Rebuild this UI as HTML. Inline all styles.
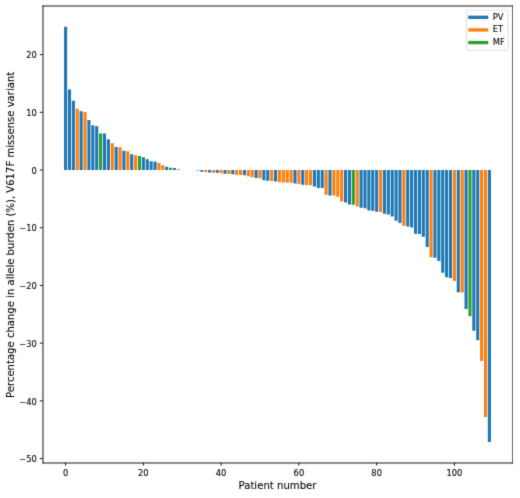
<!DOCTYPE html>
<html><head><meta charset="utf-8"><title>Chart</title>
<style>html,body{margin:0;padding:0;background:#fff;}body{width:520px;height:498px;overflow:hidden;}svg{display:block;}svg text{stroke:#000;stroke-width:0.1px;}</style>
</head><body>
<svg width="520" height="498" viewBox="0 0 624 597.6" version="1.1"><filter id="soft" x="0" y="0" width="624" height="597.6" filterUnits="userSpaceOnUse" color-interpolation-filters="sRGB"><feConvolveMatrix order="3" kernelMatrix="0.02 0.08 0.02 0.08 0.6 0.08 0.02 0.08 0.02" edgeMode="duplicate"/></filter><g filter="url(#soft)"><defs><style type="text/css">*{stroke-linejoin: round; stroke-linecap: butt}</style></defs><g id="figure_1"><g id="patch_1"><path d="M 0 597.6 L 624 597.6 L 624 0 L 0 0 z " style="fill: #ffffff"/></g><g id="axes_1"><g id="patch_2"><path d="M 51.24 555.24 L 614.76 555.24 L 614.76 7.2 L 51.24 7.2 z " style="fill: #ffffff"/></g><g id="patch_3"><path d="M 76.854545 204.046384 L 80.587084 204.046384 L 80.587084 32.110909 L 76.854545 32.110909 z " clip-path="url(#p368d1b4e70)" style="fill: #1f77b4"/></g><g id="patch_4"><path d="M 81.520219 204.046384 L 85.252757 204.046384 L 85.252757 107.31104 L 81.520219 107.31104 z " clip-path="url(#p368d1b4e70)" style="fill: #1f77b4"/></g><g id="patch_5"><path d="M 86.185892 204.046384 L 89.91843 204.046384 L 89.91843 120.883072 L 86.185892 120.883072 z " clip-path="url(#p368d1b4e70)" style="fill: #1f77b4"/></g><g id="patch_6"><path d="M 90.851565 204.046384 L 94.584103 204.046384 L 94.584103 130.508134 L 90.851565 130.508134 z " clip-path="url(#p368d1b4e70)" style="fill: #ff7f0e"/></g><g id="patch_7"><path d="M 95.517238 204.046384 L 99.249776 204.046384 L 99.249776 133.554917 L 95.517238 133.554917 z " clip-path="url(#p368d1b4e70)" style="fill: #1f77b4"/></g><g id="patch_8"><path d="M 100.182911 204.046384 L 103.91545 204.046384 L 103.91545 134.455103 L 100.182911 134.455103 z " clip-path="url(#p368d1b4e70)" style="fill: #ff7f0e"/></g><g id="patch_9"><path d="M 104.848584 204.046384 L 108.581123 204.046384 L 108.581123 144.080166 L 104.848584 144.080166 z " clip-path="url(#p368d1b4e70)" style="fill: #1f77b4"/></g><g id="patch_10"><path d="M 109.514257 204.046384 L 113.246796 204.046384 L 113.246796 150.312221 L 109.514257 150.312221 z " clip-path="url(#p368d1b4e70)" style="fill: #1f77b4"/></g><g id="patch_11"><path d="M 114.17993 204.046384 L 117.912469 204.046384 L 117.912469 151.420142 L 114.17993 151.420142 z " clip-path="url(#p368d1b4e70)" style="fill: #1f77b4"/></g><g id="patch_12"><path d="M 118.845604 204.046384 L 122.578142 204.046384 L 122.578142 160.075774 L 118.845604 160.075774 z " clip-path="url(#p368d1b4e70)" style="fill: #2ca02c"/></g><g id="patch_13"><path d="M 123.511277 204.046384 L 127.243815 204.046384 L 127.243815 160.214264 L 123.511277 160.214264 z " clip-path="url(#p368d1b4e70)" style="fill: #1f77b4"/></g><g id="patch_14"><path d="M 128.17695 204.046384 L 131.909488 204.046384 L 131.909488 167.138769 L 128.17695 167.138769 z " clip-path="url(#p368d1b4e70)" style="fill: #1f77b4"/></g><g id="patch_15"><path d="M 132.842623 204.046384 L 136.575161 204.046384 L 136.575161 171.847433 L 132.842623 171.847433 z " clip-path="url(#p368d1b4e70)" style="fill: #ff7f0e"/></g><g id="patch_16"><path d="M 137.508296 204.046384 L 141.240835 204.046384 L 141.240835 176.348362 L 137.508296 176.348362 z " clip-path="url(#p368d1b4e70)" style="fill: #1f77b4"/></g><g id="patch_17"><path d="M 142.173969 204.046384 L 145.906508 204.046384 L 145.906508 176.625342 L 142.173969 176.625342 z " clip-path="url(#p368d1b4e70)" style="fill: #ff7f0e"/></g><g id="patch_18"><path d="M 146.839642 204.046384 L 150.572181 204.046384 L 150.572181 180.918536 L 146.839642 180.918536 z " clip-path="url(#p368d1b4e70)" style="fill: #1f77b4"/></g><g id="patch_19"><path d="M 151.505315 204.046384 L 155.237854 204.046384 L 155.237854 181.541741 L 151.505315 181.541741 z " clip-path="url(#p368d1b4e70)" style="fill: #ff7f0e"/></g><g id="patch_20"><path d="M 156.170989 204.046384 L 159.903527 204.046384 L 159.903527 185.211729 L 156.170989 185.211729 z " clip-path="url(#p368d1b4e70)" style="fill: #1f77b4"/></g><g id="patch_21"><path d="M 160.836662 204.046384 L 164.5692 204.046384 L 164.5692 186.31965 L 160.836662 186.31965 z " clip-path="url(#p368d1b4e70)" style="fill: #ff7f0e"/></g><g id="patch_22"><path d="M 165.502335 204.046384 L 169.234873 204.046384 L 169.234873 187.219836 L 165.502335 187.219836 z " clip-path="url(#p368d1b4e70)" style="fill: #2ca02c"/></g><g id="patch_23"><path d="M 170.168008 204.046384 L 173.900546 204.046384 L 173.900546 188.743227 L 170.168008 188.743227 z " clip-path="url(#p368d1b4e70)" style="fill: #1f77b4"/></g><g id="patch_24"><path d="M 174.833681 204.046384 L 178.56622 204.046384 L 178.56622 191.028314 L 174.833681 191.028314 z " clip-path="url(#p368d1b4e70)" style="fill: #1f77b4"/></g><g id="patch_25"><path d="M 179.499354 204.046384 L 183.231893 204.046384 L 183.231893 193.382646 L 179.499354 193.382646 z " clip-path="url(#p368d1b4e70)" style="fill: #1f77b4"/></g><g id="patch_26"><path d="M 184.165027 204.046384 L 187.897566 204.046384 L 187.897566 193.798116 L 184.165027 193.798116 z " clip-path="url(#p368d1b4e70)" style="fill: #1f77b4"/></g><g id="patch_27"><path d="M 188.8307 204.046384 L 192.563239 204.046384 L 192.563239 195.667733 L 188.8307 195.667733 z " clip-path="url(#p368d1b4e70)" style="fill: #ff7f0e"/></g><g id="patch_28"><path d="M 193.496374 204.046384 L 197.228912 204.046384 L 197.228912 198.2298 L 193.496374 198.2298 z " clip-path="url(#p368d1b4e70)" style="fill: #ff7f0e"/></g><g id="patch_29"><path d="M 198.162047 204.046384 L 201.894585 204.046384 L 201.894585 200.237906 L 198.162047 200.237906 z " clip-path="url(#p368d1b4e70)" style="fill: #1f77b4"/></g><g id="patch_30"><path d="M 202.82772 204.046384 L 206.560258 204.046384 L 206.560258 201.415072 L 202.82772 201.415072 z " clip-path="url(#p368d1b4e70)" style="fill: #2ca02c"/></g><g id="patch_31"><path d="M 207.493393 204.046384 L 211.225931 204.046384 L 211.225931 201.692053 L 207.493393 201.692053 z " clip-path="url(#p368d1b4e70)" style="fill: #1f77b4"/></g><g id="patch_32"><path d="M 212.159066 204.046384 L 215.891605 204.046384 L 215.891605 202.799973 L 212.159066 202.799973 z " clip-path="url(#p368d1b4e70)" style="fill: #ff7f0e"/></g><g id="patch_33"><path d="M 216.824739 204.046384 L 220.557278 204.046384 L 220.557278 204.046384 L 216.824739 204.046384 z " clip-path="url(#p368d1b4e70)" style="fill: #1f77b4"/></g><g id="patch_34"><path d="M 221.490412 204.046384 L 225.222951 204.046384 L 225.222951 204.046384 L 221.490412 204.046384 z " clip-path="url(#p368d1b4e70)" style="fill: #1f77b4"/></g><g id="patch_35"><path d="M 226.156085 204.046384 L 229.888624 204.046384 L 229.888624 204.046384 L 226.156085 204.046384 z " clip-path="url(#p368d1b4e70)" style="fill: #1f77b4"/></g><g id="patch_36"><path d="M 230.821759 204.046384 L 234.554297 204.046384 L 234.554297 204.046384 L 230.821759 204.046384 z " clip-path="url(#p368d1b4e70)" style="fill: #1f77b4"/></g><g id="patch_37"><path d="M 235.487432 204.046384 L 239.21997 204.046384 L 239.21997 204.5311 L 235.487432 204.5311 z " clip-path="url(#p368d1b4e70)" style="fill: #1f77b4"/></g><g id="patch_38"><path d="M 240.153105 204.046384 L 243.885643 204.046384 L 243.885643 206.123736 L 240.153105 206.123736 z " clip-path="url(#p368d1b4e70)" style="fill: #1f77b4"/></g><g id="patch_39"><path d="M 244.818778 204.046384 L 248.551316 204.046384 L 248.551316 206.331471 L 244.818778 206.331471 z " clip-path="url(#p368d1b4e70)" style="fill: #ff7f0e"/></g><g id="patch_40"><path d="M 249.484451 204.046384 L 253.21699 204.046384 L 253.21699 206.954677 L 249.484451 206.954677 z " clip-path="url(#p368d1b4e70)" style="fill: #1f77b4"/></g><g id="patch_41"><path d="M 254.150124 204.046384 L 257.882663 204.046384 L 257.882663 207.162412 L 254.150124 207.162412 z " clip-path="url(#p368d1b4e70)" style="fill: #ff7f0e"/></g><g id="patch_42"><path d="M 258.815797 204.046384 L 262.548336 204.046384 L 262.548336 207.439392 L 258.815797 207.439392 z " clip-path="url(#p368d1b4e70)" style="fill: #1f77b4"/></g><g id="patch_43"><path d="M 263.48147 204.046384 L 267.214009 204.046384 L 267.214009 207.785618 L 263.48147 207.785618 z " clip-path="url(#p368d1b4e70)" style="fill: #ff7f0e"/></g><g id="patch_44"><path d="M 268.147144 204.046384 L 271.879682 204.046384 L 271.879682 208.616558 L 268.147144 208.616558 z " clip-path="url(#p368d1b4e70)" style="fill: #1f77b4"/></g><g id="patch_45"><path d="M 272.812817 204.046384 L 276.545355 204.046384 L 276.545355 208.755048 L 272.812817 208.755048 z " clip-path="url(#p368d1b4e70)" style="fill: #ff7f0e"/></g><g id="patch_46"><path d="M 277.47849 204.046384 L 281.211028 204.046384 L 281.211028 209.032029 L 277.47849 209.032029 z " clip-path="url(#p368d1b4e70)" style="fill: #1f77b4"/></g><g id="patch_47"><path d="M 282.144163 204.046384 L 285.876701 204.046384 L 285.876701 209.862969 L 282.144163 209.862969 z " clip-path="url(#p368d1b4e70)" style="fill: #ff7f0e"/></g><g id="patch_48"><path d="M 286.809836 204.046384 L 290.542375 204.046384 L 290.542375 209.862969 L 286.809836 209.862969 z " clip-path="url(#p368d1b4e70)" style="fill: #ff7f0e"/></g><g id="patch_49"><path d="M 291.475509 204.046384 L 295.208048 204.046384 L 295.208048 210.41693 L 291.475509 210.41693 z " clip-path="url(#p368d1b4e70)" style="fill: #1f77b4"/></g><g id="patch_50"><path d="M 296.141182 204.046384 L 299.873721 204.046384 L 299.873721 211.38636 L 296.141182 211.38636 z " clip-path="url(#p368d1b4e70)" style="fill: #ff7f0e"/></g><g id="patch_51"><path d="M 300.806855 204.046384 L 304.539394 204.046384 L 304.539394 212.840507 L 300.806855 212.840507 z " clip-path="url(#p368d1b4e70)" style="fill: #ff7f0e"/></g><g id="patch_52"><path d="M 305.472529 204.046384 L 309.205067 204.046384 L 309.205067 213.671447 L 305.472529 213.671447 z " clip-path="url(#p368d1b4e70)" style="fill: #1f77b4"/></g><g id="patch_53"><path d="M 310.138202 204.046384 L 313.87074 204.046384 L 313.87074 214.017673 L 310.138202 214.017673 z " clip-path="url(#p368d1b4e70)" style="fill: #ff7f0e"/></g><g id="patch_54"><path d="M 314.803875 204.046384 L 318.536413 204.046384 L 318.536413 216.302759 L 314.803875 216.302759 z " clip-path="url(#p368d1b4e70)" style="fill: #1f77b4"/></g><g id="patch_55"><path d="M 319.469548 204.046384 L 323.202086 204.046384 L 323.202086 216.787475 L 319.469548 216.787475 z " clip-path="url(#p368d1b4e70)" style="fill: #1f77b4"/></g><g id="patch_56"><path d="M 324.135221 204.046384 L 327.86776 204.046384 L 327.86776 217.1337 L 324.135221 217.1337 z " clip-path="url(#p368d1b4e70)" style="fill: #ff7f0e"/></g><g id="patch_57"><path d="M 328.800894 204.046384 L 332.533433 204.046384 L 332.533433 217.756906 L 328.800894 217.756906 z " clip-path="url(#p368d1b4e70)" style="fill: #1f77b4"/></g><g id="patch_58"><path d="M 333.466567 204.046384 L 337.199106 204.046384 L 337.199106 218.726336 L 333.466567 218.726336 z " clip-path="url(#p368d1b4e70)" style="fill: #ff7f0e"/></g><g id="patch_59"><path d="M 338.13224 204.046384 L 341.864779 204.046384 L 341.864779 219.003317 L 338.13224 219.003317 z " clip-path="url(#p368d1b4e70)" style="fill: #ff7f0e"/></g><g id="patch_60"><path d="M 342.797914 204.046384 L 346.530452 204.046384 L 346.530452 219.280297 L 342.797914 219.280297 z " clip-path="url(#p368d1b4e70)" style="fill: #ff7f0e"/></g><g id="patch_61"><path d="M 347.463587 204.046384 L 351.196125 204.046384 L 351.196125 219.418787 L 347.463587 219.418787 z " clip-path="url(#p368d1b4e70)" style="fill: #ff7f0e"/></g><g id="patch_62"><path d="M 352.12926 204.046384 L 355.861798 204.046384 L 355.861798 220.180483 L 352.12926 220.180483 z " clip-path="url(#p368d1b4e70)" style="fill: #1f77b4"/></g><g id="patch_63"><path d="M 356.794933 204.046384 L 360.527471 204.046384 L 360.527471 220.872933 L 356.794933 220.872933 z " clip-path="url(#p368d1b4e70)" style="fill: #ff7f0e"/></g><g id="patch_64"><path d="M 361.460606 204.046384 L 365.193145 204.046384 L 365.193145 221.703874 L 361.460606 221.703874 z " clip-path="url(#p368d1b4e70)" style="fill: #1f77b4"/></g><g id="patch_65"><path d="M 366.126279 204.046384 L 369.858818 204.046384 L 369.858818 222.050099 L 366.126279 222.050099 z " clip-path="url(#p368d1b4e70)" style="fill: #ff7f0e"/></g><g id="patch_66"><path d="M 370.791952 204.046384 L 374.524491 204.046384 L 374.524491 222.396324 L 370.791952 222.396324 z " clip-path="url(#p368d1b4e70)" style="fill: #ff7f0e"/></g><g id="patch_67"><path d="M 375.457625 204.046384 L 379.190164 204.046384 L 379.190164 223.850471 L 375.457625 223.850471 z " clip-path="url(#p368d1b4e70)" style="fill: #1f77b4"/></g><g id="patch_68"><path d="M 380.123299 204.046384 L 383.855837 204.046384 L 383.855837 225.512352 L 380.123299 225.512352 z " clip-path="url(#p368d1b4e70)" style="fill: #1f77b4"/></g><g id="patch_69"><path d="M 384.788972 204.046384 L 388.52151 204.046384 L 388.52151 225.512352 L 384.788972 225.512352 z " clip-path="url(#p368d1b4e70)" style="fill: #1f77b4"/></g><g id="patch_70"><path d="M 389.454645 204.046384 L 393.187183 204.046384 L 393.187183 233.614024 L 389.454645 233.614024 z " clip-path="url(#p368d1b4e70)" style="fill: #ff7f0e"/></g><g id="patch_71"><path d="M 394.120318 204.046384 L 397.852856 204.046384 L 397.852856 234.514209 L 394.120318 234.514209 z " clip-path="url(#p368d1b4e70)" style="fill: #1f77b4"/></g><g id="patch_72"><path d="M 398.785991 204.046384 L 402.51853 204.046384 L 402.51853 234.721945 L 398.785991 234.721945 z " clip-path="url(#p368d1b4e70)" style="fill: #ff7f0e"/></g><g id="patch_73"><path d="M 403.451664 204.046384 L 407.184203 204.046384 L 407.184203 236.037601 L 403.451664 236.037601 z " clip-path="url(#p368d1b4e70)" style="fill: #ff7f0e"/></g><g id="patch_74"><path d="M 408.117337 204.046384 L 411.849876 204.046384 L 411.849876 241.715695 L 408.117337 241.715695 z " clip-path="url(#p368d1b4e70)" style="fill: #ff7f0e"/></g><g id="patch_75"><path d="M 412.78301 204.046384 L 416.515549 204.046384 L 416.515549 243.031351 L 412.78301 243.031351 z " clip-path="url(#p368d1b4e70)" style="fill: #1f77b4"/></g><g id="patch_76"><path d="M 417.448684 204.046384 L 421.181222 204.046384 L 421.181222 245.385683 L 417.448684 245.385683 z " clip-path="url(#p368d1b4e70)" style="fill: #1f77b4"/></g><g id="patch_77"><path d="M 422.114357 204.046384 L 425.846895 204.046384 L 425.846895 245.731909 L 422.114357 245.731909 z " clip-path="url(#p368d1b4e70)" style="fill: #2ca02c"/></g><g id="patch_78"><path d="M 426.78003 204.046384 L 430.512568 204.046384 L 430.512568 247.740015 L 426.78003 247.740015 z " clip-path="url(#p368d1b4e70)" style="fill: #ff7f0e"/></g><g id="patch_79"><path d="M 431.445703 204.046384 L 435.178241 204.046384 L 435.178241 249.194161 L 431.445703 249.194161 z " clip-path="url(#p368d1b4e70)" style="fill: #1f77b4"/></g><g id="patch_80"><path d="M 436.111376 204.046384 L 439.843915 204.046384 L 439.843915 249.817367 L 436.111376 249.817367 z " clip-path="url(#p368d1b4e70)" style="fill: #1f77b4"/></g><g id="patch_81"><path d="M 440.777049 204.046384 L 444.509588 204.046384 L 444.509588 252.587169 L 440.777049 252.587169 z " clip-path="url(#p368d1b4e70)" style="fill: #1f77b4"/></g><g id="patch_82"><path d="M 445.442722 204.046384 L 449.175261 204.046384 L 449.175261 252.794904 L 445.442722 252.794904 z " clip-path="url(#p368d1b4e70)" style="fill: #1f77b4"/></g><g id="patch_83"><path d="M 450.108395 204.046384 L 453.840934 204.046384 L 453.840934 254.11056 L 450.108395 254.11056 z " clip-path="url(#p368d1b4e70)" style="fill: #1f77b4"/></g><g id="patch_84"><path d="M 454.774069 204.046384 L 458.506607 204.046384 L 458.506607 254.456786 L 454.774069 254.456786 z " clip-path="url(#p368d1b4e70)" style="fill: #ff7f0e"/></g><g id="patch_85"><path d="M 459.439742 204.046384 L 463.17228 204.046384 L 463.17228 256.395647 L 459.439742 256.395647 z " clip-path="url(#p368d1b4e70)" style="fill: #1f77b4"/></g><g id="patch_86"><path d="M 464.105415 204.046384 L 467.837953 204.046384 L 467.837953 257.365078 L 464.105415 257.365078 z " clip-path="url(#p368d1b4e70)" style="fill: #1f77b4"/></g><g id="patch_87"><path d="M 468.771088 204.046384 L 472.503626 204.046384 L 472.503626 259.788655 L 468.771088 259.788655 z " clip-path="url(#p368d1b4e70)" style="fill: #1f77b4"/></g><g id="patch_88"><path d="M 473.436761 204.046384 L 477.1693 204.046384 L 477.1693 264.982034 L 473.436761 264.982034 z " clip-path="url(#p368d1b4e70)" style="fill: #1f77b4"/></g><g id="patch_89"><path d="M 478.102434 204.046384 L 481.834973 204.046384 L 481.834973 267.544101 L 478.102434 267.544101 z " clip-path="url(#p368d1b4e70)" style="fill: #1f77b4"/></g><g id="patch_90"><path d="M 482.768107 204.046384 L 486.500646 204.046384 L 486.500646 270.798619 L 482.768107 270.798619 z " clip-path="url(#p368d1b4e70)" style="fill: #ff7f0e"/></g><g id="patch_91"><path d="M 487.43378 204.046384 L 491.166319 204.046384 L 491.166319 271.76805 L 487.43378 271.76805 z " clip-path="url(#p368d1b4e70)" style="fill: #1f77b4"/></g><g id="patch_92"><path d="M 492.099454 204.046384 L 495.831992 204.046384 L 495.831992 272.875971 L 492.099454 272.875971 z " clip-path="url(#p368d1b4e70)" style="fill: #1f77b4"/></g><g id="patch_93"><path d="M 496.765127 204.046384 L 500.497665 204.046384 L 500.497665 280.562172 L 496.765127 280.562172 z " clip-path="url(#p368d1b4e70)" style="fill: #1f77b4"/></g><g id="patch_94"><path d="M 501.4308 204.046384 L 505.163338 204.046384 L 505.163338 280.700662 L 501.4308 280.700662 z " clip-path="url(#p368d1b4e70)" style="fill: #1f77b4"/></g><g id="patch_95"><path d="M 506.096473 204.046384 L 509.829011 204.046384 L 509.829011 284.09367 L 506.096473 284.09367 z " clip-path="url(#p368d1b4e70)" style="fill: #1f77b4"/></g><g id="patch_96"><path d="M 510.762146 204.046384 L 514.494685 204.046384 L 514.494685 296.350045 L 510.762146 296.350045 z " clip-path="url(#p368d1b4e70)" style="fill: #1f77b4"/></g><g id="patch_97"><path d="M 515.427819 204.046384 L 519.160358 204.046384 L 519.160358 308.675665 L 515.427819 308.675665 z " clip-path="url(#p368d1b4e70)" style="fill: #ff7f0e"/></g><g id="patch_98"><path d="M 520.093492 204.046384 L 523.826031 204.046384 L 523.826031 309.16038 L 520.093492 309.16038 z " clip-path="url(#p368d1b4e70)" style="fill: #1f77b4"/></g><g id="patch_99"><path d="M 524.759165 204.046384 L 528.491704 204.046384 L 528.491704 313.315084 L 524.759165 313.315084 z " clip-path="url(#p368d1b4e70)" style="fill: #1f77b4"/></g><g id="patch_100"><path d="M 529.424839 204.046384 L 533.157377 204.046384 L 533.157377 327.164095 L 529.424839 327.164095 z " clip-path="url(#p368d1b4e70)" style="fill: #1f77b4"/></g><g id="patch_101"><path d="M 534.090512 204.046384 L 537.82305 204.046384 L 537.82305 332.84219 L 534.090512 332.84219 z " clip-path="url(#p368d1b4e70)" style="fill: #1f77b4"/></g><g id="patch_102"><path d="M 538.756185 204.046384 L 542.488723 204.046384 L 542.488723 333.603885 L 538.756185 333.603885 z " clip-path="url(#p368d1b4e70)" style="fill: #1f77b4"/></g><g id="patch_103"><path d="M 543.421858 204.046384 L 547.154396 204.046384 L 547.154396 337.204628 L 543.421858 337.204628 z " clip-path="url(#p368d1b4e70)" style="fill: #ff7f0e"/></g><g id="patch_104"><path d="M 548.087531 204.046384 L 551.82007 204.046384 L 551.82007 350.707414 L 548.087531 350.707414 z " clip-path="url(#p368d1b4e70)" style="fill: #1f77b4"/></g><g id="patch_105"><path d="M 552.753204 204.046384 L 556.485743 204.046384 L 556.485743 351.122885 L 552.753204 351.122885 z " clip-path="url(#p368d1b4e70)" style="fill: #ff7f0e"/></g><g id="patch_106"><path d="M 557.418877 204.046384 L 561.151416 204.046384 L 561.151416 370.649991 L 557.418877 370.649991 z " clip-path="url(#p368d1b4e70)" style="fill: #1f77b4"/></g><g id="patch_107"><path d="M 562.08455 204.046384 L 565.817089 204.046384 L 565.817089 379.582603 L 562.08455 379.582603 z " clip-path="url(#p368d1b4e70)" style="fill: #2ca02c"/></g><g id="patch_108"><path d="M 566.750224 204.046384 L 570.482762 204.046384 L 570.482762 397.032357 L 566.750224 397.032357 z " clip-path="url(#p368d1b4e70)" style="fill: #1f77b4"/></g><g id="patch_109"><path d="M 571.415897 204.046384 L 575.148435 204.046384 L 575.148435 408.319301 L 571.415897 408.319301 z " clip-path="url(#p368d1b4e70)" style="fill: #1f77b4"/></g><g id="patch_110"><path d="M 576.08157 204.046384 L 579.814108 204.046384 L 579.814108 433.247522 L 576.08157 433.247522 z " clip-path="url(#p368d1b4e70)" style="fill: #ff7f0e"/></g><g id="patch_111"><path d="M 580.747243 204.046384 L 584.479781 204.046384 L 584.479781 500.415226 L 580.747243 500.415226 z " clip-path="url(#p368d1b4e70)" style="fill: #ff7f0e"/></g><g id="patch_112"><path d="M 585.412916 204.046384 L 589.145455 204.046384 L 589.145455 530.329091 L 585.412916 530.329091 z " clip-path="url(#p368d1b4e70)" style="fill: #1f77b4"/></g><g id="matplotlib.axis_1"><g id="xtick_1"><g id="line2d_1"><defs><path id="mcb6896031c" d="M 0 0 L 0 3.5 " style="stroke: #000000; stroke-width: 1.1"/></defs><g><use href="#mcb6896031c" x="78.720815" y="555.24" style="stroke: #000000; stroke-width: 1.1"/></g></g><g id="text_1"><text style="font-size: 10px; font-family: 'DejaVu Sans', 'Liberation Sans', sans-serif; text-anchor: middle" x="78.721" y="571.038" transform="rotate(-0 78.721 571.038)">0</text></g></g><g id="xtick_2"><g id="line2d_2"><g><use href="#mcb6896031c" x="172.034277" y="555.24" style="stroke: #000000; stroke-width: 1.1"/></g></g><g id="text_2"><text style="font-size: 10px; font-family: 'DejaVu Sans', 'Liberation Sans', sans-serif; text-anchor: middle" x="172.034" y="571.038" transform="rotate(-0 172.034 571.038)">20</text></g></g><g id="xtick_3"><g id="line2d_3"><g><use href="#mcb6896031c" x="265.34774" y="555.24" style="stroke: #000000; stroke-width: 1.1"/></g></g><g id="text_3"><text style="font-size: 10px; font-family: 'DejaVu Sans', 'Liberation Sans', sans-serif; text-anchor: middle" x="265.348" y="571.038" transform="rotate(-0 265.348 571.038)">40</text></g></g><g id="xtick_4"><g id="line2d_4"><g><use href="#mcb6896031c" x="358.661202" y="555.24" style="stroke: #000000; stroke-width: 1.1"/></g></g><g id="text_4"><text style="font-size: 10px; font-family: 'DejaVu Sans', 'Liberation Sans', sans-serif; text-anchor: middle" x="358.661" y="571.038" transform="rotate(-0 358.661 571.038)">60</text></g></g><g id="xtick_5"><g id="line2d_5"><g><use href="#mcb6896031c" x="451.974665" y="555.24" style="stroke: #000000; stroke-width: 1.1"/></g></g><g id="text_5"><text style="font-size: 10px; font-family: 'DejaVu Sans', 'Liberation Sans', sans-serif; text-anchor: middle" x="451.975" y="571.038" transform="rotate(-0 451.975 571.038)">80</text></g></g><g id="xtick_6"><g id="line2d_6"><g><use href="#mcb6896031c" x="545.288127" y="555.24" style="stroke: #000000; stroke-width: 1.1"/></g></g><g id="text_6"><text style="font-size: 10px; font-family: 'DejaVu Sans', 'Liberation Sans', sans-serif; text-anchor: middle" x="545.288" y="571.038" transform="rotate(-0 545.288 571.038)">100</text></g></g><g id="text_7"><text style="font-size: 12.15px; font-family: 'DejaVu Sans', 'Liberation Sans', sans-serif; text-anchor: middle" x="333.000" y="586.800" transform="rotate(-0 333.000 586.800)">Patient number</text></g></g><g id="matplotlib.axis_2"><g id="ytick_1"><g id="line2d_7"><defs><path id="mef8e797f4b" d="M 0 0 L -3.5 0 " style="stroke: #000000; stroke-width: 1.1"/></defs><g><use href="#mef8e797f4b" x="51.24" y="550.271667" style="stroke: #000000; stroke-width: 1.1"/></g></g><g id="text_8"><text style="font-size: 10px; font-family: 'DejaVu Sans', 'Liberation Sans', sans-serif; text-anchor: end" x="44.240" y="554.671" transform="rotate(-0 44.240 554.671)">−50</text></g></g><g id="ytick_2"><g id="line2d_8"><g><use href="#mef8e797f4b" x="51.24" y="481.026611" style="stroke: #000000; stroke-width: 1.1"/></g></g><g id="text_9"><text style="font-size: 10px; font-family: 'DejaVu Sans', 'Liberation Sans', sans-serif; text-anchor: end" x="44.240" y="485.426" transform="rotate(-0 44.240 485.426)">−40</text></g></g><g id="ytick_3"><g id="line2d_9"><g><use href="#mef8e797f4b" x="51.24" y="411.781554" style="stroke: #000000; stroke-width: 1.1"/></g></g><g id="text_10"><text style="font-size: 10px; font-family: 'DejaVu Sans', 'Liberation Sans', sans-serif; text-anchor: end" x="44.240" y="416.181" transform="rotate(-0 44.240 416.181)">−30</text></g></g><g id="ytick_4"><g id="line2d_10"><g><use href="#mef8e797f4b" x="51.24" y="342.536498" style="stroke: #000000; stroke-width: 1.1"/></g></g><g id="text_11"><text style="font-size: 10px; font-family: 'DejaVu Sans', 'Liberation Sans', sans-serif; text-anchor: end" x="44.240" y="346.936" transform="rotate(-0 44.240 346.936)">−20</text></g></g><g id="ytick_5"><g id="line2d_11"><g><use href="#mef8e797f4b" x="51.24" y="273.291441" style="stroke: #000000; stroke-width: 1.1"/></g></g><g id="text_12"><text style="font-size: 10px; font-family: 'DejaVu Sans', 'Liberation Sans', sans-serif; text-anchor: end" x="44.240" y="277.691" transform="rotate(-0 44.240 277.691)">−10</text></g></g><g id="ytick_6"><g id="line2d_12"><g><use href="#mef8e797f4b" x="51.24" y="204.046384" style="stroke: #000000; stroke-width: 1.1"/></g></g><g id="text_13"><text style="font-size: 10px; font-family: 'DejaVu Sans', 'Liberation Sans', sans-serif; text-anchor: end" x="44.240" y="208.446" transform="rotate(-0 44.240 208.446)">0</text></g></g><g id="ytick_7"><g id="line2d_13"><g><use href="#mef8e797f4b" x="51.24" y="134.801328" style="stroke: #000000; stroke-width: 1.1"/></g></g><g id="text_14"><text style="font-size: 10px; font-family: 'DejaVu Sans', 'Liberation Sans', sans-serif; text-anchor: end" x="44.240" y="139.201" transform="rotate(-0 44.240 139.201)">10</text></g></g><g id="ytick_8"><g id="line2d_14"><g><use href="#mef8e797f4b" x="51.24" y="65.556271" style="stroke: #000000; stroke-width: 1.1"/></g></g><g id="text_15"><text style="font-size: 10px; font-family: 'DejaVu Sans', 'Liberation Sans', sans-serif; text-anchor: end" x="44.240" y="69.955" transform="rotate(-0 44.240 69.955)">20</text></g></g><g id="text_16"><text style="font-size: 12.09px; font-family: 'DejaVu Sans', 'Liberation Sans', sans-serif; text-anchor: middle" x="16.640" y="281.820" transform="rotate(-90 16.640 281.820)">Percentage change in allele burden (%), V617F missense variant</text></g></g><g id="patch_113"><path d="M 51.600 555.600 L 51.600 7.200" style="fill: none; stroke: #000000; stroke-width: 1.1; stroke-linejoin: miter; stroke-linecap: square"/></g><g id="patch_114"><path d="M 615.000 555.600 L 615.000 7.200" style="fill: none; stroke: #000000; stroke-width: 0.72; stroke-linejoin: miter; stroke-linecap: square"/></g><g id="patch_115"><path d="M 51.600 555.600 L 615.000 555.600" style="fill: none; stroke: #000000; stroke-width: 1.1; stroke-linejoin: miter; stroke-linecap: square"/></g><g id="patch_116"><path d="M 51.600 7.200 L 615.000 7.200" style="fill: none; stroke: #000000; stroke-width: 1.1; stroke-linejoin: miter; stroke-linecap: square"/></g><g id="legend_1"><g id="patch_117"><path d="M 561.880312 60.234375 L 607.76 60.234375 Q 609.76 60.234375 609.76 58.234375 L 609.76 14.2 Q 609.76 12.2 607.76 12.2 L 561.880312 12.2 Q 559.880312 12.2 559.880312 14.2 L 559.880312 58.234375 Q 559.880312 60.234375 561.880312 60.234375 z " style="fill: #ffffff; opacity: 0.8; stroke: #cccccc; stroke-linejoin: miter"/></g><g id="line2d_15" transform="translate(0 0.45)"><path d="M 563.880312 20.298437 L 573.880312 20.298437 L 583.880312 20.298437 " style="fill: none; stroke: #1f77b4; stroke-width: 4; stroke-linecap: square"/></g><g id="text_17"><text style="font-size: 10px; font-family: 'DejaVu Sans', 'Liberation Sans', sans-serif; text-anchor: start" x="591.380" y="23.798" transform="rotate(-0 591.380 23.798)">PV</text></g><g id="line2d_16" transform="translate(0 0.45)"><path d="M 563.880312 35.476562 L 573.880312 35.476562 L 583.880312 35.476562 " style="fill: none; stroke: #ff7f0e; stroke-width: 4; stroke-linecap: square"/></g><g id="text_18"><text style="font-size: 10px; font-family: 'DejaVu Sans', 'Liberation Sans', sans-serif; text-anchor: start" x="591.380" y="38.977" transform="rotate(-0 591.380 38.977)">ET</text></g><g id="line2d_17" transform="translate(0 0.45)"><path d="M 563.880312 50.654687 L 573.880312 50.654687 L 583.880312 50.654687 " style="fill: none; stroke: #2ca02c; stroke-width: 4; stroke-linecap: square"/></g><g id="text_19"><text style="font-size: 10px; font-family: 'DejaVu Sans', 'Liberation Sans', sans-serif; text-anchor: start" x="591.380" y="54.155" transform="rotate(-0 591.380 54.155)">MF</text></g></g></g></g><defs><clipPath id="p368d1b4e70"><rect x="51.24" y="7.2" width="563.52" height="548.04"/></clipPath></defs></g></svg> 
</body></html>
